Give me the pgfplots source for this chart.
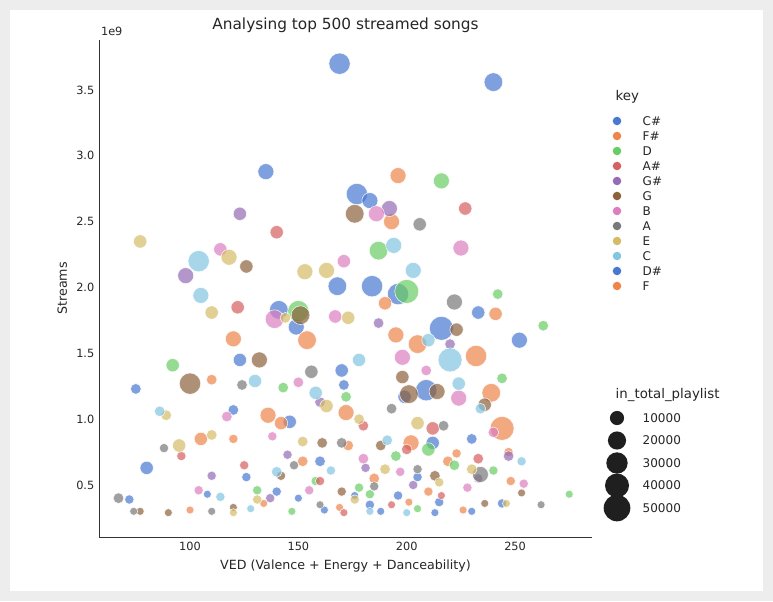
\documentclass[border=0pt]{standalone}
\usepackage{pgfplots}
\pgfplotsset{compat=1.18}
\usepackage{fontspec}
\setmainfont{DejaVu Sans}
\definecolor{cC}{HTML}{4878D0}\definecolor{cF}{HTML}{EE854A}\definecolor{cD}{HTML}{6ACC64}
\definecolor{cAs}{HTML}{D65F5F}\definecolor{cGs}{HTML}{956CB4}\definecolor{cG}{HTML}{8C613C}
\definecolor{cB}{HTML}{DC7EC0}\definecolor{cA}{HTML}{797979}\definecolor{cE}{HTML}{D5BB67}
\definecolor{cCc}{HTML}{82C6E2}
\pgfplotsset{bub/.style={scatter, only marks, mark=*, scatter/use mapped color={draw=white, fill=#1}, fill opacity=0.7, draw opacity=0.9, line width=0.4pt,
 visualization depends on={\thisrow{s}\as\ms}, scatter/@pre marker code/.append style={/tikz/mark size=\ms}}}
\begin{document}
\begin{tikzpicture}[x=1pt,y=1pt]
\fill[black!7] (-74.25,-48) rectangle (505.5,402.75);
\fill[white] (-66.75,-40.5) rectangle (498,395.25);
\begin{axis}[scale only axis, width=369.75pt, height=372.75pt,
 xmin=58, xmax=285.5, ymin=0.105, ymax=3.88,
 axis x line*=bottom, axis y line*=left, axis line style={black!80},
 xtick={100,150,200,250}, ytick={0.5,1,1.5,2,2.5,3,3.5},
 yticklabel style={/pgf/number format/.cd,fixed,fixed zerofill,precision=1},
 /pgf/number format/assume math mode=true,
 major tick length=0pt, ticklabel style={font=\fontsize{8.5}{10}\selectfont, text=black!85},
 xlabel={VED (Valence + Energy + Danceability)}, ylabel={Streams},
 label style={font=\fontsize{9.5}{11}\selectfont, text=black!85},
 title={Analysing top 500 streamed songs}, title style={font=\fontsize{11.5}{13}\selectfont, text=black!85, yshift=-4pt},
 clip=false]
\addplot[bub=cC] table {
x y s
169 3.70 8
240 3.56 7
177 2.71 8
183 2.66 6
135 2.88 6
216 1.69 9
168 2.01 7
184 2.01 8
141 1.83 7
252 1.60 6
233 1.81 5
149 1.70 6
123 1.45 5
209 1.22 8
196 1.95 8
75 1.23 4
80 0.63 5
170 1.37 5
171 1.26 4
146 0.98 5
120 1.07 4
199 1.17 5
230 0.85 4
212 0.82 5
160 0.68 4
140 0.45 3.5
183 0.35 3.5
196 0.42 3.5
215 0.37 3.5
230 0.30 3
244 0.36 3.5
72 0.39 3.5
162 0.31 3
126 0.56 3.5
188 0.30 3
205 0.56 3.5
150 0.40 3
176 0.42 3
213 0.29 3
108 0.43 3
};
\addplot[bub=cF] table {
x y s
196 2.85 6
193 2.50 6
154 1.60 7
120 1.61 6
232 1.48 8
239 1.20 7
244 0.93 9
205 1.57 7
195 1.64 6
202 0.82 6
190 1.88 5
136 1.03 6
142 0.97 5
172 1.05 6
241 1.80 5
105 0.85 5
110 1.30 4
152 0.68 4
185 0.55 4
219 0.68 4
248 0.53 3.5
134 0.36 3
169 0.33 3
201 0.37 3
226 0.31 3
120 0.85 3.5
247 0.75 3.5
210 0.45 3.5
173 0.80 4
100 0.31 3
223 0.74 3.5
};
\addplot[bub=cD] table {
x y s
216 2.81 6
200 1.97 9
187 2.28 7
92 1.41 5
263 1.71 4
242 1.95 4
210 0.77 5
275 0.43 3
150 1.82 8
172 1.17 4
143 1.24 4
222 0.65 4
195 0.72 4
158 0.53 3.5
131 0.46 3.5
183 0.43 3.5
240 0.61 3.5
205 0.32 3
147 0.30 3
178 0.48 3.5
244 1.31 4
};
\addplot[bub=cAs] table {
x y s
227 2.60 5
140 2.42 5
122 1.85 5
212 0.93 5
200 0.77 4
180 0.95 4
125 0.65 3.5
160 0.53 3.5
233 0.70 4
96 0.72 3.5
193 0.35 3
216 0.42 3
171 0.29 3
};
\addplot[bub=cGs] table {
x y s
123 2.56 5
192 2.60 6
98 2.09 6
220 1.57 4
187 1.73 4
160 1.13 4
110 0.57 3.5
137 0.40 3.5
181 0.63 3.5
203 0.50 3.5
233 0.55 3.5
247 0.72 4
145 0.73 3.5
};
\addplot[bub=cG] table {
x y s
100 1.27 8
176 2.56 7
126 2.16 5
132 1.45 6
151 1.79 7
201 1.19 7
214 1.21 6
223 1.68 5
198 1.32 5
236 1.11 5
161 0.82 4
188 0.80 4
213 0.57 4
142 0.57 3.5
170 0.45 3.5
77 0.30 3
90 0.29 3
120 0.33 3
253 0.44 3
236 0.36 3
};
\addplot[bub=cB] table {
x y s
186 2.56 6
171 2.20 5
225 2.30 6
224 1.16 6
139 1.76 7
114 2.29 5
198 1.47 6
167 1.78 5
117 1.02 4
150 1.28 4
209 1.37 4
240 0.90 4
180 0.70 4
155 0.46 3.5
197 0.60 3.5
228 0.48 3.5
254 0.51 3.5
104 0.46 3.5
138 0.87 3.5
};
\addplot[bub=cA] table {
x y s
206 2.48 5
222 1.89 6
156 1.36 5
234 0.58 6
67 0.40 4
88 0.78 3.5
124 1.26 4
170 0.82 4
193 1.08 4
217 0.95 4
148 0.65 3.5
185 0.49 3.5
205 0.62 3.5
262 0.35 3
74 0.30 3
110 0.30 3
160 0.35 3
};
\addplot[bub=cE] table {
x y s
77 2.35 5
163 2.13 6
153 2.12 6
118 2.23 6
110 1.81 5
173 1.77 5
95 0.80 5
89 1.03 4
110 0.88 4
144 1.77 4
178 1.00 4
163 1.10 5
205 0.97 5
230 0.62 4
190 0.62 4
152 0.83 4
120 0.29 3
131 0.39 3.5
176 0.39 3.5
215 0.52 3.5
246 0.36 3
};
\addplot[bub=cCc] table {
x y s
104 2.20 8
105 1.94 6
194 2.32 6
203 2.13 6
220 1.45 9
224 1.27 5
86 1.06 4
130 1.29 5
140 0.60 4
178 1.45 5
158 1.20 5
210 1.60 5
191 0.84 4
114 0.41 3.5
165 0.61 3.5
234 1.08 4
253 0.68 3.5
128 0.32 3
183 0.30 3
200 0.29 3
};
\end{axis}
\node[anchor=south west, font=\fontsize{8.5}{10}\selectfont, text=black!85] at (-2,372.75) {1e9};
% legend
\begin{scope}[font=\fontsize{9}{11}\selectfont, text=black!85]
\node[anchor=west, font=\fontsize{10}{12}\selectfont] at ({(611-99)*0.75},{(537-97)*0.75}) {key};
\foreach \c/\t [count=\i from 0] in {cC/C\#,cF/F\#,cD/D,cAs/A\#,cGs/G\#,cG/G,cB/B,cA/A,cE/E,cCc/C,cC/D\#,cF/F}{
 \fill[\c] ({(617-99)*0.75},{(537-121-\i*15)*0.75}) circle (3.2pt);
 \node[anchor=west] at ({(638-99)*0.75},{(537-121-\i*15)*0.75}) {\t};
}
\node[anchor=west, font=\fontsize{10}{12}\selectfont] at ({(611-99)*0.75},{(537-395)*0.75}) {in\_total\_playlist};
\foreach \r/\t [count=\i from 0] in {5.3/10000,6.8/20000,8.0/30000,9.0/40000,10/50000}{
 \fill[black!88] ({(617-99)*0.75},{(537-418-\i*22.5)*0.75}) circle (\r pt);
 \node[anchor=west] at ({(638-99)*0.75},{(537-418-\i*22.5)*0.75}) {\t};
}
\end{scope}
\end{tikzpicture}
\end{document}
